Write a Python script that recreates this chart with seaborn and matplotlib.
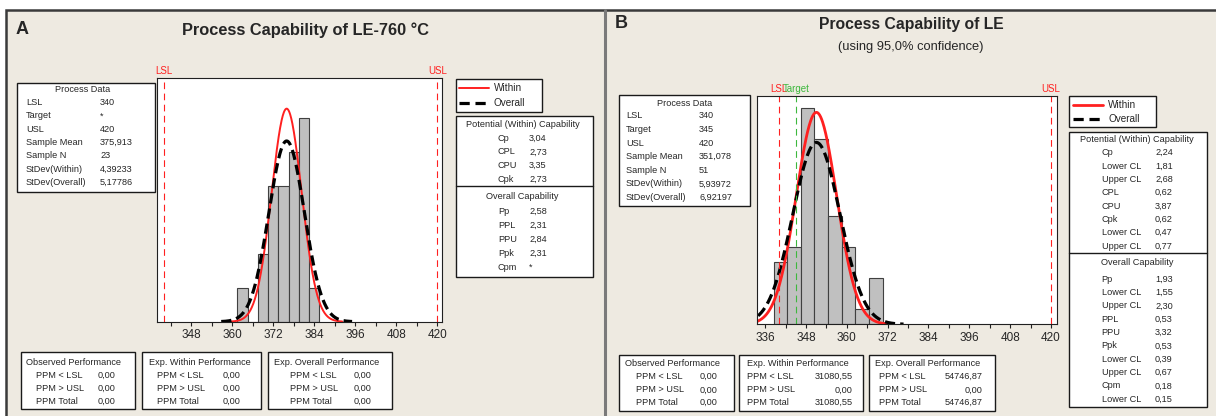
"""
Two Minitab-style process capability reports, redrawn with seaborn.
"""
import numpy as np
import matplotlib
matplotlib.use('Agg')
import matplotlib.pyplot as plt
from matplotlib.patches import Rectangle
from matplotlib.lines import Line2D
import seaborn as sns

# ---- panel A data ----
A_EDGES = [361.5, 364.5, 367.5, 370.5, 373.5, 376.5, 379.5, 382.5, 385.5]
A_COUNTS = [1, 0, 2, 4, 4, 5, 6, 1]
A_MEAN = 375.913
A_SD_WITHIN = 4.39233
A_SD_OVERALL = 5.17786
A_LSL, A_USL = 340, 420
A_TICKS = [348, 360, 372, 384, 396, 408, 420]
A_MINOR = [342, 354, 366, 378, 390, 402, 414]

A_DATA_LABELS = ['LSL', 'Target', 'USL', 'Sample Mean', 'Sample N', 'StDev(Within)', 'StDev(Overall)']
A_DATA_VALUES = ['340', '*', '420', '375,913', '23', '4,39233', '5,17786']
A_WITHIN_LABELS = ['Cp', 'CPL', 'CPU', 'Cpk']
A_WITHIN_VALUES = ['3,04', '2,73', '3,35', '2,73']
A_OVERALL_LABELS = ['Pp', 'PPL', 'PPU', 'Ppk', 'Cpm']
A_OVERALL_VALUES = ['2,58', '2,31', '2,84', '2,31', '*']
A_PPM_OBS = ['0,00', '0,00', '0,00']
A_PPM_WITHIN = ['0,00', '0,00', '0,00']
A_PPM_OVERALL = ['0,00', '0,00', '0,00']

# ---- panel B data ----
B_EDGES = [338.5, 342.5, 346.5, 350.5, 354.5, 358.5, 362.5, 366.5, 370.5]
B_COUNTS = [4, 5, 14, 12, 7, 5, 1, 3]
B_MEAN = 351.078
B_SD_WITHIN = 5.93972
B_SD_OVERALL = 6.92197
B_LSL, B_TARGET, B_USL = 340, 345, 420
B_TICKS = [336, 348, 360, 372, 384, 396, 408, 420]
B_MINOR = [342, 354, 366, 378, 390, 402, 414]

B_DATA_LABELS = ['LSL', 'Target', 'USL', 'Sample Mean', 'Sample N', 'StDev(Within)', 'StDev(Overall)']
B_DATA_VALUES = ['340', '345', '420', '351,078', '51', '5,93972', '6,92197']
B_WITHIN_LABELS = ['Cp', 'Lower CL', 'Upper CL', 'CPL', 'CPU', 'Cpk', 'Lower CL', 'Upper CL']
B_WITHIN_VALUES = ['2,24', '1,81', '2,68', '0,62', '3,87', '0,62', '0,47', '0,77']
B_OVERALL_LABELS = ['Pp', 'Lower CL', 'Upper CL', 'PPL', 'PPU', 'Ppk', 'Lower CL', 'Upper CL', 'Cpm', 'Lower CL']
B_OVERALL_VALUES = ['1,93', '1,55', '2,30', '0,53', '3,32', '0,53', '0,39', '0,67', '0,18', '0,15']
B_PPM_OBS = ['0,00', '0,00', '0,00']
B_PPM_WITHIN = ['31080,55', '0,00', '31080,55']
B_PPM_OVERALL = ['54746,87', '0,00', '54746,87']

PPM_LABELS = ['PPM < LSL', 'PPM > USL', 'PPM Total']

sns.set_style('ticks')
plt.rcParams['font.family'] = ['Liberation Sans', 'DejaVu Sans']

W, H = 1216, 416
BEIGE = '#EEEAE1'
RED = '#FF2020'
FS = 6.6

fig = plt.figure(figsize=(W / 100, H / 100), dpi=100, facecolor='white')


def fx(x):
    return x / W


def fy(y):
    return 1 - y / H


def box(x0, y0, x1, y1, lw=1.0, fc='white', ec='#1A1A1A', z=1):
    fig.add_artist(Rectangle((fx(x0), fy(y1)), (x1 - x0) / W, (y1 - y0) / H,
                             transform=fig.transFigure, facecolor=fc,
                             edgecolor=ec, lw=lw, zorder=z))


def hline(x0, x1, y, **kw):
    fig.add_artist(Line2D([fx(x0), fx(x1)], [fy(y), fy(y)],
                          transform=fig.transFigure, **kw))


def txt(x, y, s, ha='left', size=FS, **kw):
    fig.text(fx(x), fy(y), s, ha=ha, va='center', fontsize=size, **kw)


# background frame, kept underneath the plot axes
box(6, 10, 1220, 420, lw=1.8, fc=BEIGE, ec='#3A3A3A', z=-10)
fig.add_artist(Line2D([fx(605), fx(605)], [fy(10), 0], transform=fig.transFigure,
                      color='#7A7A7A', lw=2.2, zorder=-5))


def normal_curve(ax, mean, sd, n, bw, **kw):
    xs = np.linspace(mean - 3.7 * sd, mean + 3.7 * sd, 300)
    ys = n * bw * np.exp(-0.5 * ((xs - mean) / sd) ** 2) / (sd * np.sqrt(2 * np.pi))
    sns.lineplot(x=xs, y=ys, ax=ax, legend=False, **kw)


def hist_panel(rect, edges, counts, mean, sd_w, sd_o, xlim, ylim, ticks, minor, specs, red_lw):
    ax = fig.add_axes([fx(rect[0]), fy(rect[3]), (rect[2] - rect[0]) / W, (rect[3] - rect[1]) / H])
    ax.set_zorder(2)
    ax.set_facecolor('white')
    centers = [(a + b) / 2 for a, b in zip(edges[:-1], edges[1:])]
    sns.histplot(x=centers, weights=counts, bins=edges, ax=ax, color='#C0C0C0',
                 edgecolor='#404040', linewidth=0.8, alpha=1)
    n = sum(counts)
    bw = edges[1] - edges[0]
    normal_curve(ax, mean, sd_w, n, bw, color=RED, lw=red_lw)
    normal_curve(ax, mean, sd_o, n, bw, color='black', lw=2.3, linestyle=(0, (3.2, 1.6)))
    for val, name, col in specs:
        ax.axvline(val, color=col, lw=0.8, linestyle=(0, (6, 4)))
        ax.annotate(name, xy=(val, 1), xycoords=('data', 'axes fraction'), xytext=(0, 1.5),
                    textcoords='offset points', ha='center', va='bottom', fontsize=7, color=col)
    ax.set_xlim(*xlim)
    ax.set_ylim(*ylim)
    ax.set_xticks(ticks)
    ax.set_xticks(minor, minor=True)
    ax.set_yticks([])
    ax.set_xlabel('')
    ax.set_ylabel('')
    ax.tick_params(axis='x', which='both', length=3, width=0.8, color='#202020',
                   labelsize=8.5, pad=2.5, direction='out')
    for sp in ax.spines.values():
        sp.set_visible(True)
        sp.set_color('#202020')
        sp.set_linewidth(0.8)
    return ax


def legend_box(x0, y0, x1, y1, line_x0, line_x1, text_x, y_w, y_o, red_lw):
    box(x0, y0, x1, y1)
    hline(line_x0, line_x1, y_w, color=RED, lw=red_lw)
    hline(line_x0, line_x1, y_o, color='black', lw=2.3, linestyle=(0, (3.2, 1.8)))
    txt(text_x, y_w, 'Within', size=7.2)
    txt(text_x, y_o, 'Overall', size=7.2)


def ppm_box(x0, x1, head_x, lab_x, val_x, head, vals, y0, y1, ys, ha='left'):
    box(x0, y0, x1, y1)
    txt(head_x, ys[0], head)
    for lab, v, yy in zip(PPM_LABELS, vals, ys[1:]):
        txt(lab_x, yy, lab)
        txt(val_x, yy, v, ha=ha)


# ================= Panel A =================
txt(16, 30, 'A', size=13, weight='bold')
txt(305, 30, 'Process Capability of LE-760 °C', ha='center', size=11.8, weight='bold')

box(17, 83, 155, 192)
txt(83, 89.5, 'Process Data', ha='center')
for i, (lab, v) in enumerate(zip(A_DATA_LABELS, A_DATA_VALUES)):
    yy = 102.5 + i * 13.3
    txt(26, yy, lab)
    txt(100, yy, v)

hist_panel((157.3, 78.3, 441.7, 321.7), A_EDGES, A_COUNTS, A_MEAN, A_SD_WITHIN, A_SD_OVERALL,
           (338.05, 421.3), (0, 7.16), A_TICKS, A_MINOR,
           [(A_LSL, 'LSL', RED), (A_USL, 'USL', RED)], 1.4)

legend_box(455.7, 79, 542.3, 111.7, 458.5, 488.5, 493.5, 88.3, 102.7, 1.4)

box(455.7, 115.7, 593.3, 276.7)
hline(455.7, 593.3, 185.7, color='#1A1A1A', lw=1.0)
txt(522.5, 124.5, 'Potential (Within) Capability', ha='center')
for i, (lab, v) in enumerate(zip(A_WITHIN_LABELS, A_WITHIN_VALUES)):
    yy = 138.3 + i * 13.7
    txt(498, yy, lab)
    txt(529, yy, v)
txt(522.5, 196.7, 'Overall Capability', ha='center')
for i, (lab, v) in enumerate(zip(A_OVERALL_LABELS, A_OVERALL_VALUES)):
    yy = 211.7 + i * 13.9
    txt(498, yy, lab)
    txt(529, yy, v)

a_ys = [362.7, 375.7, 388.7, 401.7]
ppm_box(20.7, 135, 26, 36, 97.3, 'Observed Performance', A_PPM_OBS, 351.7, 409.3, a_ys)
ppm_box(142.3, 260.7, 149, 156.7, 222.7, 'Exp. Within Performance', A_PPM_WITHIN, 351.7, 409.3, a_ys)
ppm_box(268.3, 391.7, 274, 290, 353.3, 'Exp. Overall Performance', A_PPM_OVERALL, 351.7, 409.3, a_ys)

# ================= Panel B =================
txt(615, 24, 'B', size=13, weight='bold')
txt(911, 24, 'Process Capability of LE', ha='center', size=11.3, weight='bold')
txt(911, 47, '(using 95,0% confidence)', ha='center', size=9.3)

box(619, 95, 750, 206)
txt(685, 104, 'Process Data', ha='center')
for i, (lab, v) in enumerate(zip(B_DATA_LABELS, B_DATA_VALUES)):
    yy = 116 + i * 13.6
    txt(626, yy, lab)
    txt(699, yy, v)

hist_panel((757.3, 95.7, 1056.7, 324.3), B_EDGES, B_COUNTS, B_MEAN, B_SD_WITHIN, B_SD_OVERALL,
           (333.7, 421.7), (0, 14.78), B_TICKS, B_MINOR,
           [(B_LSL, 'LSL', RED), (B_TARGET, 'Target', '#3DB83D'), (B_USL, 'USL', RED)], 2.0)

legend_box(1069.3, 96, 1156, 127.3, 1072.7, 1103.3, 1108.3, 105, 119, 2.0)

box(1069.3, 131.7, 1206.7, 406.7)
hline(1069.3, 1206.7, 253.3, color='#1A1A1A', lw=1.0)
txt(1137, 140, 'Potential (Within) Capability', ha='center')
for i, (lab, v) in enumerate(zip(B_WITHIN_LABELS, B_WITHIN_VALUES)):
    yy = 152.7 + i * 13.33
    txt(1101.7, yy, lab)
    txt(1155, yy, v)
txt(1137, 262.7, 'Overall Capability', ha='center')
for i, (lab, v) in enumerate(zip(B_OVERALL_LABELS, B_OVERALL_VALUES)):
    yy = 279.3 + i * 13.33
    txt(1101.7, yy, lab)
    txt(1155, yy, v)

b_ys = [363.3, 376.7, 390, 402.7]
ppm_box(619.3, 734, 625, 636, 699.3, 'Observed Performance', B_PPM_OBS, 354.7, 410.7, b_ys)
ppm_box(739.3, 862.7, 746.7, 747.3, 852.7, 'Exp. Within Performance', B_PPM_WITHIN, 354.7, 410.7, b_ys, ha='right')
ppm_box(869.3, 995, 875, 879.3, 982.7, 'Exp. Overall Performance', B_PPM_OVERALL, 354.7, 410.7, b_ys, ha='right')

fig.savefig('out.png', dpi=100, facecolor='white')
